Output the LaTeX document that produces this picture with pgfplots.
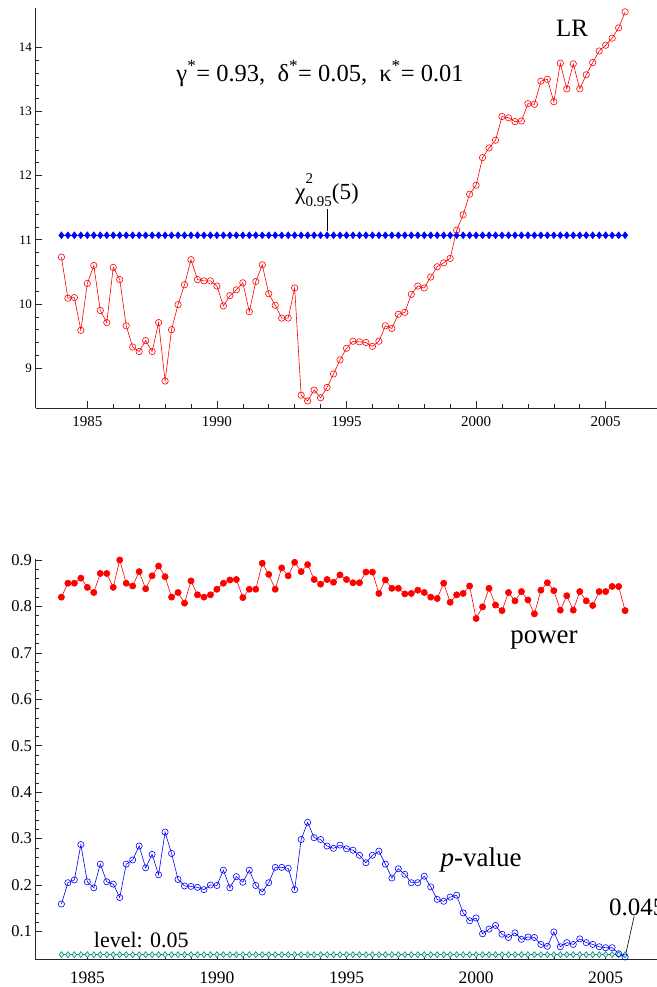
\documentclass[border=0pt]{standalone}
\usepackage{fontspec}
\setmainfont{Liberation Serif}
\usepackage{pgfplots}
\pgfplotsset{compat=1.18}
\usepackage{pgfplotstable}

\definecolor{lvl}{RGB}{0,140,130}

% quarterly series: LR statistic, power, p-value, chi-square bound, test level
\pgfplotstableread{
t lr pw pv chi lev
1984.00 10.73 0.820 0.159 11.07 0.05
1984.25 10.09 0.850 0.205 11.07 0.05
1984.50 10.10 0.850 0.211 11.07 0.05
1984.75 9.59 0.861 0.287 11.07 0.05
1985.00 10.32 0.841 0.207 11.07 0.05
1985.25 10.60 0.830 0.194 11.07 0.05
1985.50 9.90 0.871 0.245 11.07 0.05
1985.75 9.71 0.871 0.207 11.07 0.05
1986.00 10.57 0.841 0.202 11.07 0.05
1986.25 10.38 0.900 0.173 11.07 0.05
1986.50 9.66 0.850 0.245 11.07 0.05
1986.75 9.33 0.844 0.254 11.07 0.05
1987.00 9.26 0.875 0.284 11.07 0.05
1987.25 9.43 0.838 0.237 11.07 0.05
1987.50 9.26 0.866 0.266 11.07 0.05
1987.75 9.71 0.887 0.222 11.07 0.05
1988.00 8.80 0.864 0.314 11.07 0.05
1988.25 9.60 0.820 0.268 11.07 0.05
1988.50 9.99 0.830 0.212 11.07 0.05
1988.75 10.30 0.807 0.198 11.07 0.05
1989.00 10.69 0.855 0.197 11.07 0.05
1989.25 10.38 0.825 0.195 11.07 0.05
1989.50 10.36 0.820 0.190 11.07 0.05
1989.75 10.36 0.825 0.200 11.07 0.05
1990.00 10.28 0.837 0.199 11.07 0.05
1990.25 9.97 0.850 0.232 11.07 0.05
1990.50 10.13 0.857 0.194 11.07 0.05
1990.75 10.22 0.858 0.218 11.07 0.05
1991.00 10.33 0.819 0.206 11.07 0.05
1991.25 9.88 0.837 0.232 11.07 0.05
1991.50 10.35 0.837 0.199 11.07 0.05
1991.75 10.61 0.893 0.185 11.07 0.05
1992.00 10.16 0.869 0.205 11.07 0.05
1992.25 9.98 0.837 0.238 11.07 0.05
1992.50 9.78 0.883 0.238 11.07 0.05
1992.75 9.78 0.866 0.236 11.07 0.05
1993.00 10.25 0.895 0.190 11.07 0.05
1993.25 8.58 0.875 0.298 11.07 0.05
1993.50 8.49 0.890 0.335 11.07 0.05
1993.75 8.66 0.858 0.302 11.07 0.05
1994.00 8.54 0.848 0.298 11.07 0.05
1994.25 8.70 0.858 0.284 11.07 0.05
1994.50 8.91 0.852 0.279 11.07 0.05
1994.75 9.13 0.868 0.286 11.07 0.05
1995.00 9.31 0.858 0.278 11.07 0.05
1995.25 9.42 0.851 0.275 11.07 0.05
1995.50 9.41 0.851 0.264 11.07 0.05
1995.75 9.40 0.874 0.248 11.07 0.05
1996.00 9.34 0.874 0.264 11.07 0.05
1996.25 9.42 0.828 0.273 11.07 0.05
1996.50 9.66 0.857 0.245 11.07 0.05
1996.75 9.62 0.839 0.215 11.07 0.05
1997.00 9.84 0.839 0.235 11.07 0.05
1997.25 9.87 0.827 0.223 11.07 0.05
1997.50 10.15 0.828 0.205 11.07 0.05
1997.75 10.28 0.835 0.205 11.07 0.05
1998.00 10.25 0.830 0.219 11.07 0.05
1998.25 10.42 0.820 0.196 11.07 0.05
1998.50 10.58 0.817 0.169 11.07 0.05
1998.75 10.64 0.850 0.165 11.07 0.05
1999.00 10.71 0.809 0.174 11.07 0.05
1999.25 11.15 0.825 0.178 11.07 0.05
1999.50 11.39 0.828 0.140 11.07 0.05
1999.75 11.71 0.844 0.123 11.07 0.05
2000.00 11.85 0.774 0.129 11.07 0.05
2000.25 12.28 0.799 0.095 11.07 0.05
2000.50 12.43 0.839 0.105 11.07 0.05
2000.75 12.55 0.803 0.113 11.07 0.05
2001.00 12.92 0.791 0.094 11.07 0.05
2001.25 12.90 0.830 0.087 11.07 0.05
2001.50 12.84 0.812 0.097 11.07 0.05
2001.75 12.85 0.832 0.083 11.07 0.05
2002.00 13.12 0.814 0.088 11.07 0.05
2002.25 13.11 0.784 0.087 11.07 0.05
2002.50 13.47 0.835 0.072 11.07 0.05
2002.75 13.50 0.851 0.068 11.07 0.05
2003.00 13.15 0.834 0.099 11.07 0.05
2003.25 13.75 0.792 0.067 11.07 0.05
2003.50 13.35 0.823 0.076 11.07 0.05
2003.75 13.74 0.792 0.072 11.07 0.05
2004.00 13.35 0.832 0.084 11.07 0.05
2004.25 13.57 0.812 0.076 11.07 0.05
2004.50 13.76 0.802 0.072 11.07 0.05
2004.75 13.94 0.832 0.067 11.07 0.05
2005.00 14.03 0.832 0.065 11.07 0.05
2005.25 14.14 0.843 0.065 11.07 0.05
2005.50 14.30 0.843 0.052 11.07 0.05
2005.75 14.55 0.791 0.045 11.07 0.05
}\data

\pgfplotsset{
  panel/.style={
    scale only axis, width=622pt, height=400pt,
    xmin=1983, xmax=2007,
    axis x line*=bottom, axis y line*=left,
    axis line style={line width=0.6pt, black!85},
    tick align=inside, major tick length=7pt, minor tick length=4pt,
    tick style={line width=0.6pt, black!85},
    xtick={1985,1990,...,2005}, minor x tick num=4, minor y tick num=4,
    /pgf/number format/1000 sep={},
    /pgf/number format/assume math mode=true,
    clip=false,
  },
}

\begin{document}
\begin{tikzpicture}
\begin{axis}[panel, at={(35.5pt,-408pt)}, anchor=south west,
  ymin=8.38, ymax=14.61, ytick={9,...,14},
  xticklabel style={font=\fontsize{15}{18}\selectfont, yshift=-5pt},
  yticklabel style={font=\fontsize{13}{16}\selectfont}]
  \addplot[blue, line width=0.6pt, mark=diamond*, mark size=3.4pt] table[x=t, y=chi] {\data};
  \addplot[red, line width=0.6pt, mark=o, mark size=3.2pt, mark options={line width=0.6pt}] table[x=t, y=lr] {\data};
  \node[font=\fontsize{25}{30}\selectfont] at (axis cs:2003.7,14.30) {LR};
  \node[font=\fontsize{24.5}{29}\selectfont] at (axis cs:1993.98,13.59) {γ\textsuperscript{*}= 0.93,\enspace δ\textsuperscript{*}= 0.05,\enspace κ\textsuperscript{*}= 0.01};
  \draw[line width=0.6pt] (axis cs:1994.25,11.13) -- (axis cs:1994.25,11.48);
  \node[font=\fontsize{23}{27}\selectfont, anchor=south, inner sep=1pt] at (axis cs:1994.25,11.5)
    {χ\rlap{\raisebox{0.7em}{\fontsize{15}{18}\selectfont 2}}\raisebox{-0.3em}{\fontsize{15}{18}\selectfont 0.95}(5)};
\end{axis}

\begin{axis}[panel, at={(35.5pt,-959.3pt)}, anchor=south west,
  ymin=0.04, ymax=0.9015, ytick={0.1,0.2,...,0.9},
  xticklabel style={font=\fontsize{17.5}{21}\selectfont, yshift=-9pt},
  yticklabel style={font=\fontsize{16.5}{20}\selectfont}]
  \addplot[lvl, line width=0.6pt, mark=diamond*, mark size=3pt, mark options={fill=lvl!15, line width=0.6pt}] table[x=t, y=lev] {\data};
  \addplot[red, line width=0.6pt, mark=*, mark size=3.1pt] table[x=t, y=pw] {\data};
  \addplot[blue, line width=0.6pt, mark=o, mark size=3.1pt, mark options={line width=0.6pt}] table[x=t, y=pv] {\data};
  \node[font=\fontsize{27}{32}\selectfont] at (axis cs:2002.62,0.728) {power};
  \node[font=\fontsize{27}{32}\selectfont] at (axis cs:2000.19,0.253) {\textit{p}-value};
  \node[font=\fontsize{22}{26}\selectfont] at (axis cs:1987.08,0.081) {level: 0.05};
  \draw[line width=0.6pt] (axis cs:2005.75,0.045) -- (axis cs:2006.1,0.133);
  \node[font=\fontsize{25}{30}\selectfont, anchor=west, inner sep=0pt] at (axis cs:2005.13,0.152) {0.045};
\end{axis}
\pgfresetboundingbox
\useasboundingbox (0pt,0pt) rectangle (656pt,-987pt);
\end{tikzpicture}
\end{document}
